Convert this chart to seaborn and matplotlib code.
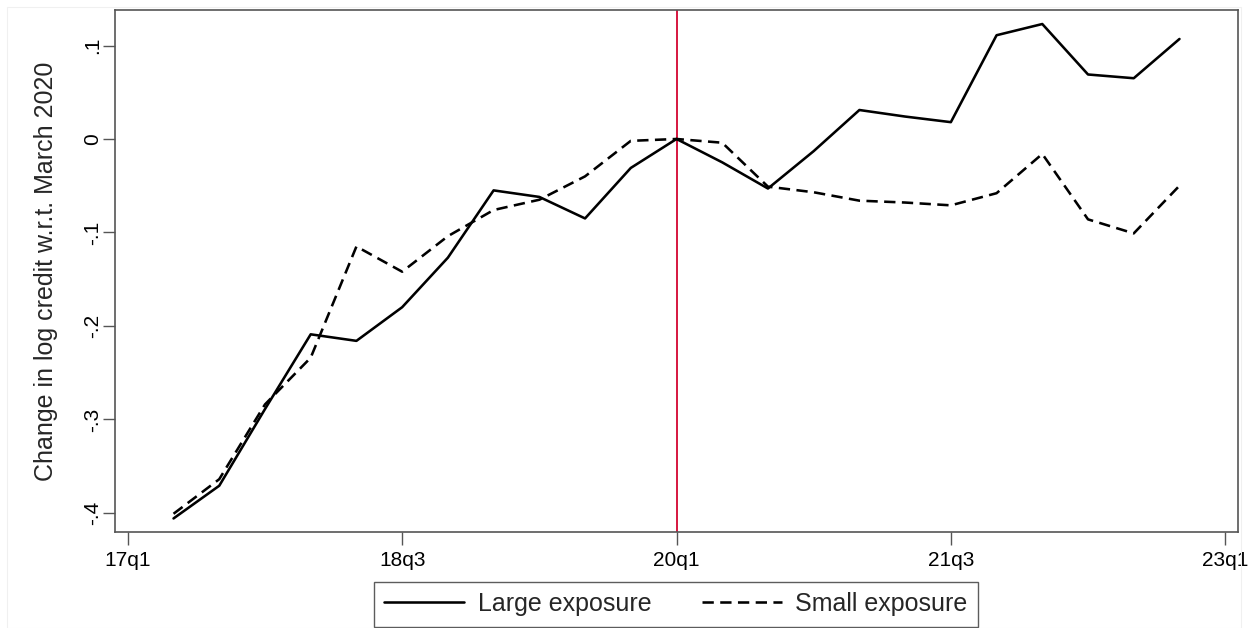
import numpy as np
import pandas as pd
import matplotlib
matplotlib.use("Agg")
import matplotlib.pyplot as plt
import seaborn as sns
from matplotlib.lines import Line2D

# ---- data ----
quarters = ["17q2", "17q3", "17q4", "18q1", "18q2", "18q3", "18q4",
            "19q1", "19q2", "19q3", "19q4", "20q1", "20q2", "20q3", "20q4",
            "21q1", "21q2", "21q3", "21q4", "22q1", "22q2", "22q3", "22q4"]
large_exposure = [-0.406, -0.371, -0.289, -0.209, -0.216, -0.180, -0.127,
                  -0.055, -0.062, -0.085, -0.031, 0.000, -0.025, -0.053, -0.013,
                  0.031, 0.024, 0.018, 0.111, 0.123, 0.069, 0.065, 0.107]
small_exposure = [-0.401, -0.364, -0.284, -0.234, -0.115, -0.142, -0.104,
                  -0.076, -0.065, -0.040, -0.002, 0.000, -0.004, -0.051, -0.057,
                  -0.066, -0.068, -0.071, -0.058, -0.016, -0.086, -0.101, -0.050]
x_tick_labels = ["17q1", "18q3", "20q1", "21q3", "23q1"]
y_ticks = [0.1, 0.0, -0.1, -0.2, -0.3, -0.4]
y_tick_labels = [".1", "0", "-.1", "-.2", "-.3", "-.4"]
event_quarter = "20q1"
series_names = ["Large exposure", "Small exposure"]


def qidx(q):
    yy = int(q[:2]); qq = int(q[3])
    return (yy - 17) * 4 + (qq - 1)


df = pd.DataFrame({
    "t": [qidx(q) for q in quarters] * 2,
    "value": large_exposure + small_exposure,
    "series": [series_names[0]] * len(quarters) + [series_names[1]] * len(quarters),
})

sns.set_theme(style="white")
plt.rcParams['font.family'] = ['Liberation Sans', 'DejaVu Sans']

fig = plt.figure(figsize=(12.48, 6.28), dpi=100)
ax = fig.add_axes([115 / 1248, 1 - 532 / 628, (1238 - 115) / 1248, (532 - 10) / 628])

lw = 1.85
dash = (4.4, 2.5)
sns.lineplot(data=df, x="t", y="value", style="series", hue="series",
             palette=["black", "black"],
             dashes={series_names[0]: "", series_names[1]: dash},
             linewidth=lw, ax=ax, legend=False, zorder=3)

ax.axvline(qidx(event_quarter), color="#d6163f", linewidth=1.4, zorder=2)

ax.set_xlim(-0.28, 24.28)
ax.set_ylim(-0.4205, 0.138)
ax.set_xticks([qidx(l) for l in x_tick_labels])
ax.set_xticklabels(x_tick_labels, fontsize=15)
ax.set_yticks(y_ticks)
ax.set_yticklabels(y_tick_labels, fontsize=15, rotation=90, va="center")
ax.set_xlabel("")
ax.set_ylabel("Change in log credit w.r.t. March 2020", fontsize=18, labelpad=18)

for s in ax.spines.values():
    s.set_color("#555555")
    s.set_linewidth(1.2)
ax.tick_params(axis="x", which="major", direction="out", length=9, width=1.0,
               color="#555555", labelcolor="black", pad=5, bottom=True)
ax.tick_params(axis="y", which="major", direction="out", length=9, width=1.0,
               color="#555555", labelcolor="black", pad=0, left=True)

handles = [Line2D([], [], color="black", linewidth=lw),
           Line2D([], [], color="black", linewidth=lw, dashes=dash)]
leg = fig.legend(handles, series_names, loc="center", ncol=2,
                 bbox_to_anchor=(676 / 1248, 1 - 604 / 628),
                 fontsize=18, frameon=True, fancybox=False, edgecolor="#333333",
                 handlelength=3.2, handletextpad=0.55, columnspacing=2.0,
                 borderpad=0.42)
leg.get_frame().set_linewidth(1.0)

# faint outer graph border
fig.patches.append(plt.Rectangle((7 / 1248, 0), 1 - 14 / 1248, 1 - 7 / 628,
                                 transform=fig.transFigure, fill=False,
                                 edgecolor="#f0f0f0", linewidth=0.8))

fig.savefig("out.png", dpi=100, facecolor="white")
